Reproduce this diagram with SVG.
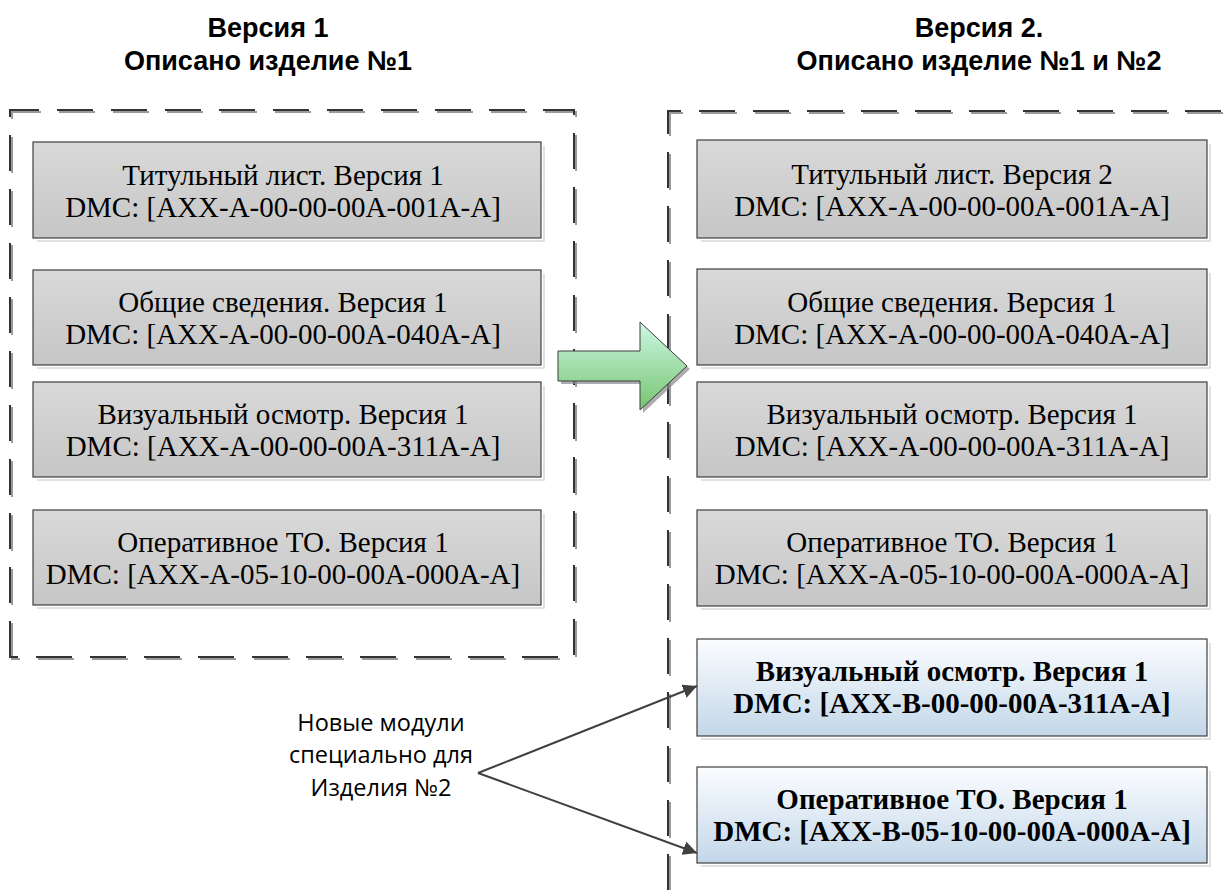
<svg xmlns="http://www.w3.org/2000/svg" width="1225" height="890" viewBox="0 0 1225 890">
<defs>
<linearGradient id="gGray" x1="0" y1="0" x2="0" y2="1"><stop offset="0" stop-color="#d9d9d9"/><stop offset="1" stop-color="#c6c6c6"/></linearGradient>
<linearGradient id="gBlue" x1="0" y1="0" x2="0" y2="1"><stop offset="0" stop-color="#fbfdff"/><stop offset="1" stop-color="#c3d7e9"/></linearGradient>
<linearGradient id="gGreen" x1="0" y1="0" x2="0" y2="1"><stop offset="0" stop-color="#cdf7e4"/><stop offset="1" stop-color="#76c56f"/></linearGradient>
<marker id="ah" viewBox="0 0 10 10" refX="10" refY="5" markerWidth="14" markerHeight="14" markerUnits="userSpaceOnUse" orient="auto"><path d="M0,0 L10,5 L0,10 Z" fill="#404040"/></marker>
</defs>
<style>
.frs{fill:none;stroke:#9a9a9a;stroke-width:2;stroke-dasharray:36 18}
.frd{fill:none;stroke:#333;stroke-width:2;stroke-dasharray:36 18}
.box{stroke:#404040;stroke-width:1.2}
.sh{fill:none;stroke:#d8d8d8;stroke-width:1.5}
.t{font-family:"Liberation Serif","Times New Roman",Times,serif;font-size:29px;font-weight:normal;fill:#000;text-anchor:middle}
.tb{font-family:"Liberation Serif","Times New Roman",Times,serif;font-size:29px;font-weight:bold;fill:#000;text-anchor:middle}
.h{font-family:"Liberation Sans",Arial,sans-serif;font-size:27px;font-weight:bold;fill:#000;text-anchor:middle}
.lbl{font-family:"Open Sans","Noto Sans",sans-serif;font-size:23.5px;fill:#000;text-anchor:middle}
.con{fill:none;stroke:#404040;stroke-width:2}
</style>

<g id="headings">
<text class="h" x="268" y="37">Версия 1</text>
<text class="h" x="268" y="70">Описано изделие №1</text>
<text class="h" x="979" y="37">Версия 2.</text>
<text class="h" x="979" y="70">Описано изделие №1 и №2</text>
</g>

<g id="frame-left">
<path class="frs" d="M12,659 L12,112 L576,112 L576,659 Z"/>
<path class="frd" d="M10,657 L10,110 L574,110 L574,657 Z"/>
</g>
<g id="frame-right">
<path class="frs" d="M670,892 L670,113 L1227,113"/>
<path class="frd" d="M668,890 L668,111 L1225,111"/>
</g>

<g id="l1"><path class="sh" d="M37,241 H544 V146"/><rect class="box" x="33" y="142" width="508" height="96" fill="url(#gGray)"/>
<text class="t" x="283" y="185">Титульный лист. Версия 1</text><text class="t" x="283" y="217">DMC: [AXX-A-00-00-00A-001A-A]</text></g>
<g id="l2"><path class="sh" d="M37,368 H544 V274"/><rect class="box" x="33" y="270" width="508" height="95" fill="url(#gGray)"/>
<text class="t" x="283" y="312">Общие сведения. Версия 1</text><text class="t" x="283" y="344">DMC: [AXX-A-00-00-00A-040A-A]</text></g>
<g id="l3"><path class="sh" d="M37,480 H544 V386"/><rect class="box" x="33" y="382" width="508" height="95" fill="url(#gGray)"/>
<text class="t" x="283" y="424">Визуальный осмотр. Версия 1</text><text class="t" x="283" y="456">DMC: [AXX-A-00-00-00A-311A-A]</text></g>
<g id="l4"><path class="sh" d="M37,608 H544 V514"/><rect class="box" x="33" y="510" width="508" height="95" fill="url(#gGray)"/>
<text class="t" x="283" y="552">Оперативное ТО. Версия 1</text><text class="t" x="283" y="584">DMC: [AXX-A-05-10-00-00A-000A-A]</text></g>

<g id="r1"><path class="sh" d="M701,241 H1210 V144"/><rect class="box" x="697" y="140" width="510" height="98" fill="url(#gGray)"/>
<text class="t" x="952" y="184">Титульный лист. Версия 2</text><text class="t" x="952" y="216">DMC: [AXX-A-00-00-00A-001A-A]</text></g>
<g id="r2"><path class="sh" d="M701,368 H1210 V273"/><rect class="box" x="697" y="269" width="510" height="96" fill="url(#gGray)"/>
<text class="t" x="952" y="312">Общие сведения. Версия 1</text><text class="t" x="952" y="344">DMC: [AXX-A-00-00-00A-040A-A]</text></g>
<g id="r3"><path class="sh" d="M701,480 H1210 V386"/><rect class="box" x="697" y="382" width="510" height="95" fill="url(#gGray)"/>
<text class="t" x="952" y="424">Визуальный осмотр. Версия 1</text><text class="t" x="952" y="456">DMC: [AXX-A-00-00-00A-311A-A]</text></g>
<g id="r4"><path class="sh" d="M701,609 H1210 V514"/><rect class="box" x="697" y="510" width="510" height="96" fill="url(#gGray)"/>
<text class="t" x="952" y="552">Оперативное ТО. Версия 1</text><text class="t" x="952" y="584">DMC: [AXX-A-05-10-00-00A-000A-A]</text></g>
<g id="r5"><path class="sh" d="M701,739 H1210 V643"/><rect class="box" x="697" y="639" width="510" height="97" fill="url(#gBlue)"/>
<text class="tb" x="952" y="681">Визуальный осмотр. Версия 1</text><text class="tb" x="952" y="713">DMC: [AXX-B-00-00-00A-311A-A]</text></g>
<g id="r6"><path class="sh" d="M701,866 H1210 V771"/><rect class="box" x="697" y="767" width="510" height="96" fill="url(#gBlue)"/>
<text class="tb" x="952" y="809">Оперативное ТО. Версия 1</text><text class="tb" x="952" y="841">DMC: [AXX-B-05-10-00-00A-000A-A]</text></g>

<g id="big-arrow">
<path d="M561,354 H643 V325 L690,369 L643,413 V384 H561 Z" fill="#8a8a8a" opacity="0.7"/>
<path d="M558,351 H640 V322 L687,366 L640,410 V381 H558 Z" fill="url(#gGreen)" stroke="#3c3c3c" stroke-width="1"/>
</g>

<g id="label">
<text class="lbl" x="381" y="731">Новые модули</text>
<text class="lbl" x="381" y="763">специально для</text>
<text class="lbl" x="381" y="796">Изделия №2</text>
</g>

<g id="connectors">
<path class="con" d="M478,773 L697,686" marker-end="url(#ah)"/>
<path class="con" d="M478,773 L697,853" marker-end="url(#ah)"/>
</g>
</svg>
